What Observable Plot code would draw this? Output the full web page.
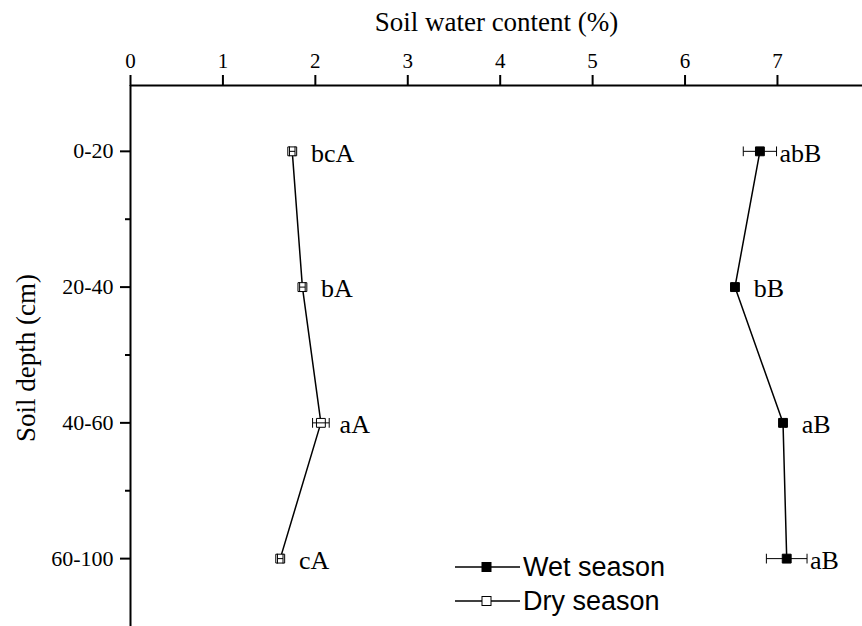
<!DOCTYPE html>
<html><head><meta charset="utf-8">
<script src="https://cdn.jsdelivr.net/npm/d3@7"></script>
<script src="https://cdn.jsdelivr.net/npm/@observablehq/plot@0.6"></script>
<style>
body{margin:0;background:#fff}
#chart{position:relative;width:862px;height:626px}
.legend{position:absolute;left:455px;top:550px;font-family:"Liberation Sans",Arial,sans-serif;font-size:27px;color:#000}
.legend .row{display:flex;align-items:center;height:34px}
.legend svg{margin-right:3px}
</style></head><body><div id="chart"></div><script>
const depths = ["0-20", "20-40", "40-60", "60-100"];
const wetValues = [6.81, 6.54, 7.06, 7.10];
const wetErrors = [0.18, 0.03, 0.03, 0.22];
const wetLetters = ["abB", "bB", "aB", "aB"];
const dryValues = [1.75, 1.86, 2.06, 1.62];
const dryErrors = [0.03, 0.03, 0.09, 0.03];
const dryLetters = ["bcA", "bA", "aA", "cA"];
const xTicks = [0, 1, 2, 3, 4, 5, 6, 7];
const seasons = ["Wet season", "Dry season"];

const xDomain = [0, 7.92];
const yDomain = [4.5, 0.515];
const yMajor = depths.map((d, i) => i + 1);
const yMinor = [1.5, 2.5, 3.5];

const wet = depths.map((d, i) => ({pos: i + 1, v: wetValues[i], e: wetErrors[i], letter: wetLetters[i]}));
const dry = depths.map((d, i) => ({pos: i + 1, v: dryValues[i], e: dryErrors[i], letter: dryLetters[i]}));

const cap = {draw(ctx, size) { const h = Math.sqrt(size) / 2; ctx.moveTo(0, -h); ctx.lineTo(0, h); }};
const serif = '"Liberation Serif","Times New Roman",serif';

function series(data, fill) {
  return [
    Plot.line(data, {x: "v", y: "pos", stroke: "black", strokeWidth: 1.5}),
    Plot.dot(data, {x: "v", y: "pos", symbol: "square", r: 5, fill, stroke: "black", strokeWidth: 1}),
    Plot.link(data, {x1: d => d.v - d.e, x2: d => d.v + d.e, y1: "pos", y2: "pos", stroke: "black", strokeWidth: 1}),
    Plot.dot(data, {x: d => d.v - d.e, y: "pos", symbol: cap, r: 5.5, stroke: "black", strokeWidth: 1, fill: "none"}),
    Plot.dot(data, {x: d => d.v + d.e, y: "pos", symbol: cap, r: 5.5, stroke: "black", strokeWidth: 1, fill: "none"}),
    Plot.text(data, {x: d => d.v + Math.max(d.e, 0.17), y: "pos", text: "letter", textAnchor: "start", dx: 3, dy: 2, fontSize: 26, fill: "black"})
  ];
}

const chart = Plot.plot({
  width: 862,
  height: 626,
  marginLeft: 130,
  marginRight: 0,
  marginTop: 85,
  marginBottom: 0,
  style: {fontFamily: serif, background: "white", color: "black"},
  x: {domain: xDomain},
  y: {domain: yDomain},
  marks: [
    Plot.axisX({anchor: "top", ticks: xTicks, tickSize: 11, tickPadding: 7, strokeWidth: 2, fontSize: 21, label: null, tickFormat: d => String(d)}),
    Plot.axisY({anchor: "left", ticks: yMajor, tickSize: 10, tickPadding: 7, strokeWidth: 2, fontSize: 22, label: null, tickFormat: d => depths[d - 1]}),
    Plot.axisY({anchor: "left", ticks: yMinor, tickSize: 5, strokeWidth: 2, label: null, tickFormat: () => ""}),
    Plot.ruleY([yDomain[1]], {stroke: "black", strokeWidth: 2}),
    Plot.ruleX([xDomain[0]], {stroke: "black", strokeWidth: 2}),
    Plot.text(["Soil water content (%)"], {frameAnchor: "top", dy: -74, fontSize: 27, fill: "black"}),
    Plot.text(["Soil depth (cm)"], {frameAnchor: "left", textAnchor: "middle", dx: -104, dy: 2, rotate: -90, fontSize: 27, fill: "black"}),
    ...series(dry, "white"),
    ...series(wet, "black")
  ]
});
const root = document.getElementById("chart");
root.appendChild(chart);

const legend = document.createElement("div");
legend.className = "legend";
const fills = ["black", "white"];
seasons.forEach((s, i) => {
  const row = document.createElement("div");
  row.className = "row";
  row.innerHTML = `<svg width="65" height="16"><line x1="0" x2="65" y1="8" y2="8" stroke="black" stroke-width="1.5"/><rect x="27" y="3.5" width="9" height="9" fill="${fills[i]}" stroke="black" stroke-width="1"/></svg><span>${s}</span>`;
  legend.appendChild(row);
});
root.appendChild(legend);
</script></body></html>
